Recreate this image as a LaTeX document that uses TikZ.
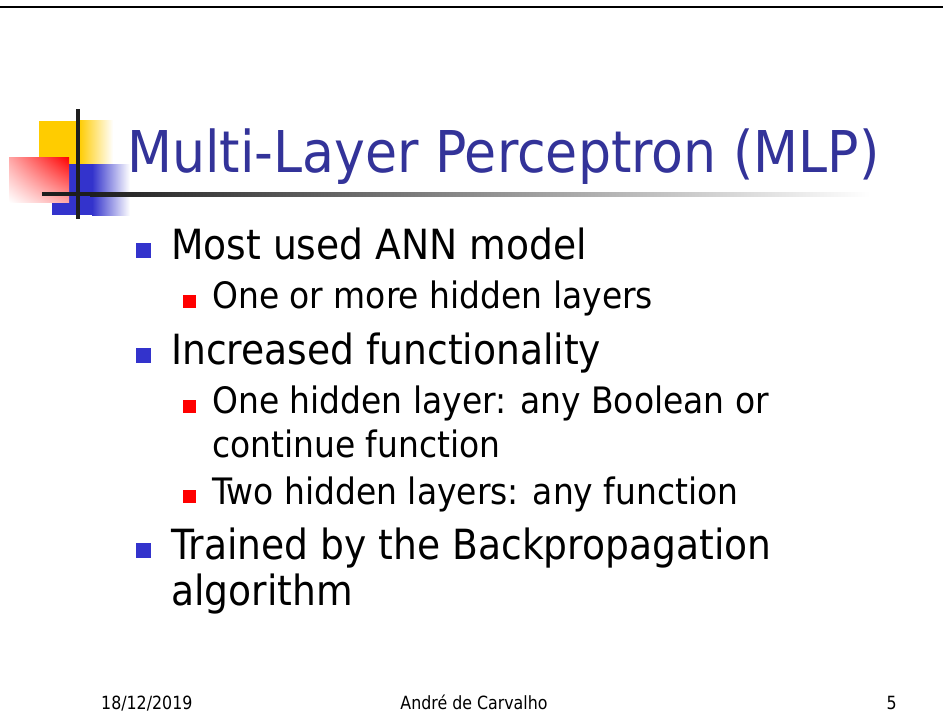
\documentclass[tikz,border=0pt]{standalone}
\usepackage{fontspec}
\usetikzlibrary{shadings}
\setmainfont{DejaVu Sans}[FakeStretch=0.905]
\newfontfamily\footfont{DejaVu Sans}[FakeStretch=0.87]
\definecolor{titleblue}{HTML}{333399}
\definecolor{bulletblue}{HTML}{3333CC}
\definecolor{logoyellow}{HTML}{FFCC00}
\definecolor{logored}{HTML}{FF0000}
\definecolor{bardark}{HTML}{1E1E1E}
\tikzset{
  titletext/.style={anchor=base west, inner sep=0pt, text=titleblue,
    font=\fontsize{57.6}{68}\selectfont},
  itemone/.style={anchor=base west, inner sep=0pt,
    font=\fontsize{41.6}{50}\selectfont},
  itemtwo/.style={anchor=base west, inner sep=0pt,
    font=\fontsize{36.4}{44}\selectfont},
  footertext/.style={inner sep=0pt, font=\footfont\fontsize{18.2}{22}\selectfont},
  bulletone/.style={fill=bulletblue, draw=none, inner sep=0pt,
    minimum size=15pt, anchor=south west},
  bullettwo/.style={fill=logored, draw=none, inner sep=0pt,
    minimum size=12.5pt, anchor=south west},
}
\begin{document}
\begin{tikzpicture}[x=1pt,y=-1pt]
\useasboundingbox[fill=white] (0,0) rectangle (943,720);

% rule across the top edge
\draw[line width=2pt, black] (0,7) -- (943,7);

% logo: yellow, blue and red squares with fading edges
\fill[logoyellow] (39,121) rectangle (79,165);
\shade[left color=logoyellow, right color=white] (79,120) rectangle (113,165);
\fill[bulletblue] (52,164) rectangle (92,215);
\shade[left color=bulletblue, right color=white] (92,164) rectangle (130,215);
\shade[upper right=logored, lower left=white,
       upper left=logored!35!white, lower right=logored!35!white]
  (9,157) rectangle (69,202);
% crossing bars of the logo
\shade[left color=bardark, right color=white] (90,192) rectangle (870,196);
\fill[bardark] (42,192) rectangle (90,196);
\fill[bardark] (75.5,109) rectangle (79.5,219);

% title
\node[titletext] (title) at (127,172) {Multi-Layer Perceptron (MLP)};

% bullet list
\node[bulletone] (b1) at (136,258) {};
\node[itemone] (t1) at (171,259) {Most used ANN model};
\node[bullettwo] (b2) at (183,308) {};
\node[itemtwo] (t2) at (212,308) {One or more hidden layers};
\node[bulletone] (b3) at (136,363) {};
\node[itemone] (t3) at (171,364) {Increased functionality};
\node[bullettwo] (b4) at (183,413) {};
\node[itemtwo] (t4) at (212,413) {One hidden layer: any Boolean or};
\node[itemtwo] (t4b) at (212,457) {continue function};
\node[bullettwo] (b5) at (183,503) {};
\node[itemtwo] (t5) at (212,504) {Two hidden layers: any function};
\node[bulletone] (b6) at (136,558) {};
\node[itemone] (t6) at (171,559) {Trained by the Backpropagation};
\node[itemone] (t6b) at (171,605) {algorithm};

% footer
\node[footertext, anchor=base west] (date) at (101,709) {18/12/2019};
\node[footertext, anchor=base] (author) at (474,709) {André de Carvalho};
\node[footertext, anchor=base east] (page) at (897,709) {5};
\end{tikzpicture}
\end{document}
